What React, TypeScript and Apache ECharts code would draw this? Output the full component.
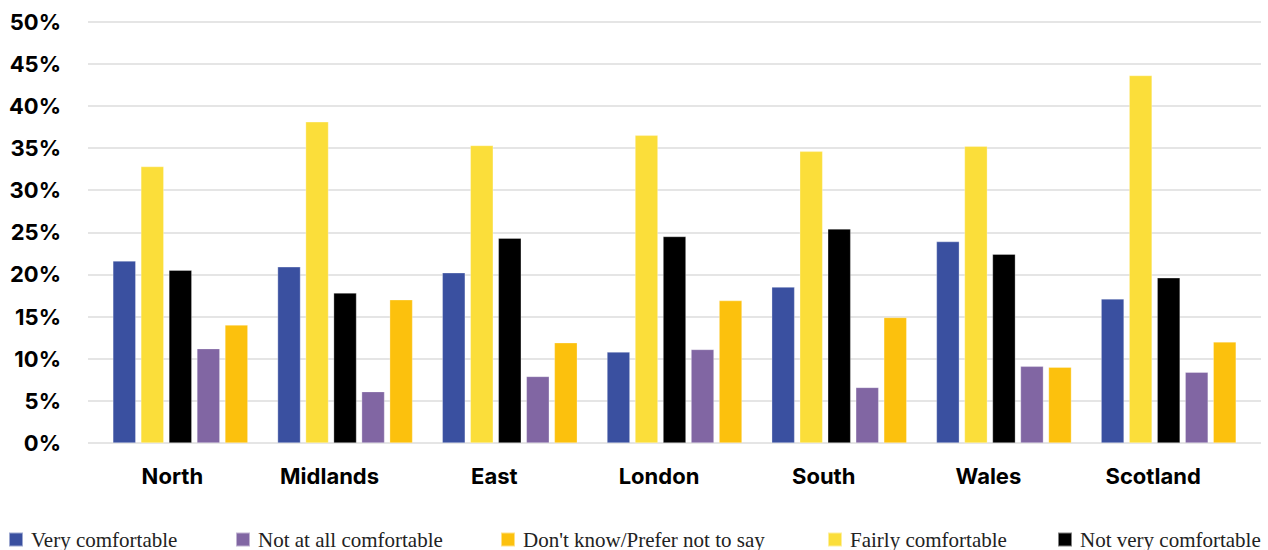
import React, { useEffect, useRef } from "react";
import * as echarts from "echarts";

const categories = ["North", "Midlands", "East", "London", "South", "Wales", "Scotland"];
const veryComfortable = [21.6, 20.9, 20.2, 10.8, 18.5, 23.9, 17.1];
const fairlyComfortable = [32.8, 38.1, 35.3, 36.5, 34.6, 35.2, 43.6];
const notVeryComfortable = [20.5, 17.8, 24.3, 24.5, 25.4, 22.4, 19.6];
const notAtAllComfortable = [11.2, 6.1, 7.9, 11.1, 6.6, 9.1, 8.4];
const dontKnow = [14.0, 17.0, 11.9, 16.9, 14.9, 9.0, 12.0];

const seriesDefs = [
  { name: "Very comfortable", data: veryComfortable, color: "#3A50A0" },
  { name: "Fairly comfortable", data: fairlyComfortable, color: "#FBDE3A" },
  { name: "Not very comfortable", data: notVeryComfortable, color: "#000000" },
  { name: "Not at all comfortable", data: notAtAllComfortable, color: "#8166A3" },
  { name: "Don't know/Prefer not to say", data: dontKnow, color: "#FCC10D" },
];

// legend order and horizontal placement of each entry
const legendOrder = [
  "Very comfortable",
  "Not at all comfortable",
  "Don't know/Prefer not to say",
  "Fairly comfortable",
  "Not very comfortable",
];
const legendLeft = [8, 235, 500, 827, 1057];

const TOP = 21.5;
const BOTTOM = 107;

export default function App() {
  const ref = useRef<HTMLDivElement>(null);

  useEffect(() => {
    if (!ref.current) return;
    const chart = echarts.init(ref.current, null, { renderer: "svg" });

    const valueAxisBase = {
      type: "value" as const,
      min: 0,
      max: 50,
      interval: 5,
    };

    const labelFont = {
      color: "#000",
      fontFamily: "Inter",
      fontWeight: "bold" as const,
      fontSize: 22,
    };

    chart.setOption({
      animation: false,
      backgroundColor: "#ffffff",
      grid: [
        // background grid: y labels and horizontal gridlines
        { left: 88, right: 7, top: TOP, bottom: BOTTOM },
        // bars
        { left: 98, right: 17, top: TOP, bottom: BOTTOM },
      ],
      xAxis: [
        { type: "category", gridIndex: 0, data: categories, show: false },
        {
          type: "category",
          gridIndex: 1,
          data: categories,
          axisLine: { show: false },
          axisTick: { show: false },
          axisLabel: {
            interval: 0,
            hideOverlap: false,
            margin: 22,
            ...labelFont,
            // category names sit slightly left of their bar groups
            formatter: (v: string, i: number) => (i === 0 ? `{first|${v}}` : `{rest|${v}}`),
            rich: {
              first: { ...labelFont, padding: [0, 16, 0, 0] },
              rest: { ...labelFont, padding: [0, 31, 0, 0] },
            },
          },
        },
      ],
      yAxis: [
        {
          ...valueAxisBase,
          gridIndex: 0,
          axisLine: { show: false },
          axisTick: { show: false },
          splitLine: { show: true, lineStyle: { color: "#dcdcdc", width: 1.5 } },
          axisLabel: {
            margin: 27,
            ...labelFont,
            formatter: (v: number) => `${v}%`,
          },
        },
        {
          ...valueAxisBase,
          gridIndex: 1,
          show: false,
          splitLine: { show: false },
        },
      ],
      legend: legendOrder.map((name, i) => ({
        data: [name],
        left: legendLeft[i],
        top: 529,
        padding: 0,
        itemWidth: 14,
        itemHeight: 14,
        itemGap: 10,
        icon: "rect",
        textStyle: {
          fontFamily: "Liberation Serif",
          fontSize: 21,
          color: "#222",
          lineHeight: 20,
          padding: [0, 0, 0, 3],
        },
      })),
      series: seriesDefs.map((s) => ({
        type: "bar",
        name: s.name,
        xAxisIndex: 1,
        yAxisIndex: 1,
        data: s.data,
        barGap: "22%",
        barCategoryGap: "18%",
        itemStyle: { color: s.color, borderColor: "rgba(255,255,255,0.5)", borderWidth: 0.6 },
      })),
    });

    return () => chart.dispose();
  }, []);

  return <div ref={ref} style={{ width: 1268, height: 550, position: "absolute", left: 0, top: 0 }} />;
}
